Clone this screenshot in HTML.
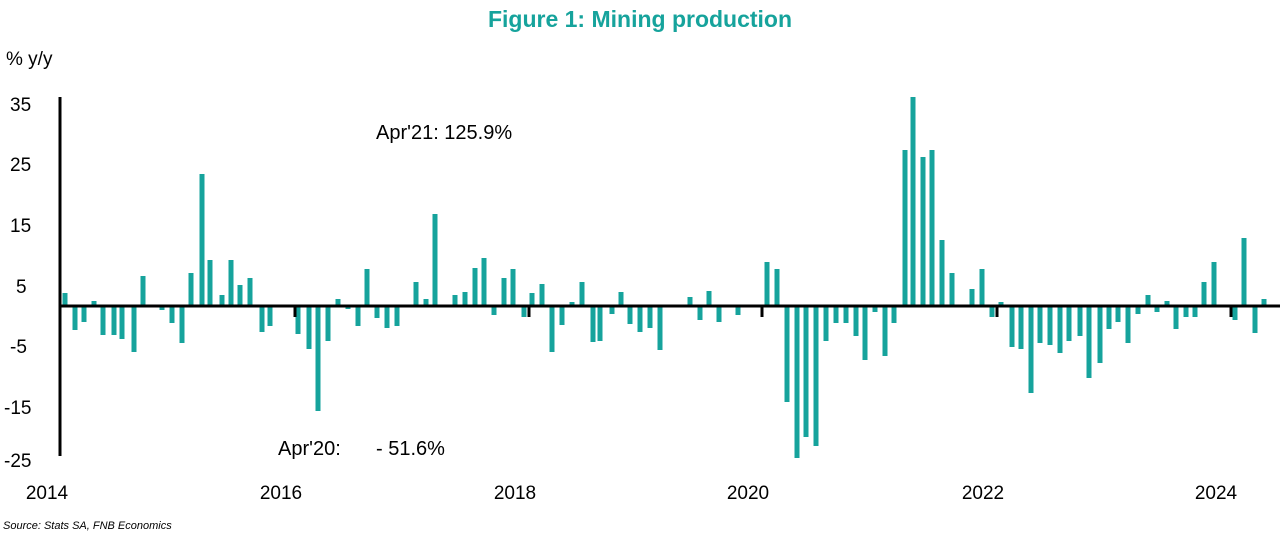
<!DOCTYPE html>
<html><head><meta charset="utf-8"><style>
body{margin:0;background:#fff;width:1280px;height:536px;overflow:hidden;font-family:"Liberation Sans",sans-serif}
</style></head><body>
<svg width="1280" height="536" xmlns="http://www.w3.org/2000/svg">
<text x="640" y="27" text-anchor="middle" font-family="Liberation Sans,sans-serif" font-weight="bold" font-size="23" fill="#16a39c">Figure 1: Mining production</text>
<text x="6" y="65" font-size="19" fill="#000">% y/y</text>
<g font-size="19" fill="#000" text-anchor="start">
<text x="10" y="111">35</text><text x="10" y="171">25</text><text x="10" y="232">15</text><text x="16" y="293">5</text><text x="10" y="353">-5</text><text x="4" y="414">-15</text><text x="4" y="467">-25</text>
</g>
<g font-size="19" fill="#000" text-anchor="middle">
<text x="47" y="499">2014</text><text x="281" y="499">2016</text><text x="515" y="499">2018</text><text x="748" y="499">2020</text><text x="983" y="499">2022</text><text x="1216" y="499">2024</text>
</g>
<text x="376" y="139" font-size="20">Apr'21: 125.9%</text>
<text x="278" y="455" font-size="20">Apr'20:</text>
<text x="376" y="455" font-size="20">- 51.6%</text>
<text x="3" y="529" font-size="11" font-style="italic" fill="#000">Source: Stats SA, FNB Economics</text>
<g id="bars" fill="#16a39c"></g>
<g id="blk" fill="#000"></g>
<line x1="60" y1="97" x2="60" y2="456" stroke="#000" stroke-width="3"/>
<line x1="60" y1="306" x2="1280" y2="306" stroke="#000" stroke-width="3"/>
</svg>
<script>
var d=[[65,293],[75,330],[84,322],[94,301],[103,335],[114,335],[122,339],[134,352],[143,276],[153,305],[162,310],[172,323],[182,343],[191,273],[202,174],[210,260],[222,295],[231,260],[240,285],[250,278],[262,332],[270,326],[279,305],[289,305],[298,334],[309,349],[318,411],[328,341],[338,299],[348,309],[358,326],[367,269],[377,318],[387,328],[397,326],[416,282],[426,299],[435,214],[455,295],[465,292],[475,268],[484,258],[494,315],[504,278],[513,269],[524,317],[532,293],[542,284],[552,352],[562,325],[572,302],[582,282],[593,342],[600,341],[612,314],[621,292],[630,324],[640,332],[650,328],[660,350],[670,305],[680,305],[690,297],[700,320],[709,291],[719,322],[729,305],[738,315],[748,305],[757,305],[767,262],[777,269],[787,402],[797,458],[806,437],[816,446],[826,341],[836,323],[846,323],[856,336],[865,360],[875,312],[885,356],[894,323],[905,150],[913,97],[923,157],[932,150],[942,240],[952,273],[972,289],[982,269],[992,317],[1001,302],[1012,347],[1021,349],[1031,393],[1040,343],[1050,345],[1060,353],[1069,341],[1080,336],[1089,378],[1100,363],[1109,329],[1118,322],[1128,343],[1138,314],[1148,295],[1157,312],[1167,301],[1176,329],[1186,317],[1195,317],[1204,282],[1214,262],[1225,305],[1235,320],[1244,238],[1255,333],[1264,299]];
var g=document.getElementById('bars'),s='';
d.forEach(function(p){var y=Math.min(p[1],306),h=Math.abs(p[1]-306);s+='<rect x="'+(p[0]-2.5)+'" y="'+y+'" width="5" height="'+Math.max(h,1)+'"/>';});
g.innerHTML=s;
var b='';[295,529,762,997,1231].forEach(function(x){b+='<rect x="'+(x-1.5)+'" y="306" width="3" height="11"/>';});
document.getElementById('blk').innerHTML=b;
</script>
</body></html>
